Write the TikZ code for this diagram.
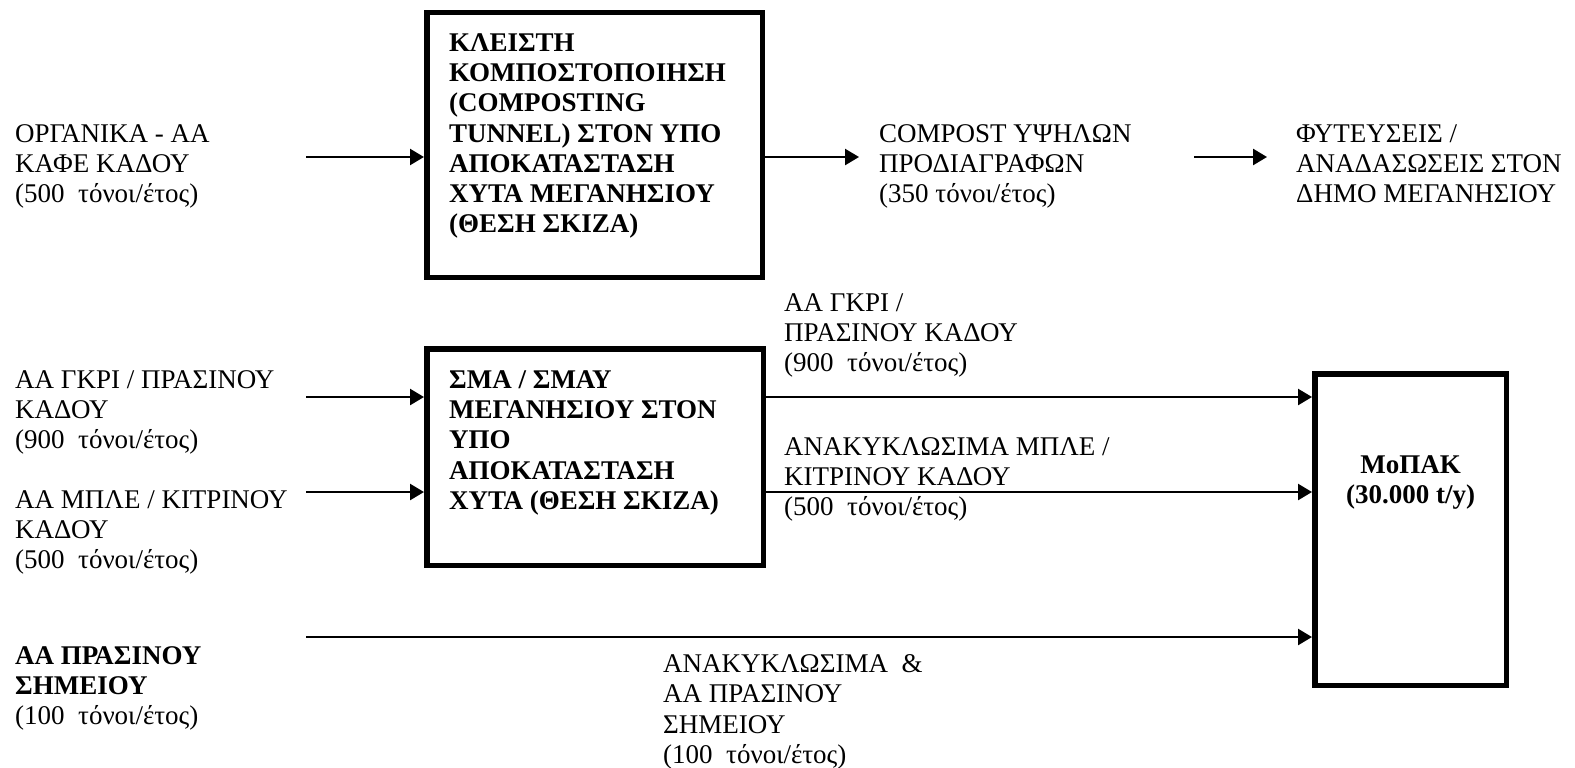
\documentclass[tikz,border=0pt]{standalone}
\usepackage{fontspec}
\setmainfont{Liberation Serif}
\usetikzlibrary{arrows.meta,positioning}
\newcommand\fs{\fontsize{27}{30.2}\selectfont}
\tikzset{
    lbl/.style={anchor=north west,inner sep=0pt,align=left,font=\fs},
    blok/.style={draw,line width=5.5pt,inner sep=0pt},
    arr/.style={line width=2.5pt,-{Triangle[length=14pt,width=16pt]}}
}
\begin{document}
\begin{tikzpicture}[x=1pt,y=-1pt]
    \useasboundingbox (0,0) rectangle (1575,768);
    % boxes
    \node[blok,minimum width=335.5pt,minimum height=264.5pt] (kleisti) at (594.5,145) {};
    \node[blok,minimum width=336.5pt,minimum height=216.5pt] (sma) at (595,457) {};
    \node[blok,minimum width=191.5pt,minimum height=311.5pt] (mopak) at (1410.5,529.5) {};
    \node[lbl,font=\fs\bfseries,below right=23.5pt and 25pt of kleisti.north west] (kleistitxt)
        {ΚΛΕΙΣΤΗ\\ΚΟΜΠΟΣΤΟΠΟΙΗΣΗ\\(COMPOSTING\\TUNNEL) ΣΤΟΝ ΥΠΟ\\ΑΠΟΚΑΤΑΣΤΑΣΗ\\ΧΥΤΑ ΜΕΓΑΝΗΣΙΟΥ\\(ΘΕΣΗ ΣΚΙΖΑ)};
    \node[lbl,font=\fs\bfseries,below right=24.5pt and 25pt of sma.north west] (smatxt)
        {ΣΜΑ / ΣΜΑΥ\\ΜΕΓΑΝΗΣΙΟΥ ΣΤΟΝ\\ΥΠΟ\\ΑΠΟΚΑΤΑΣΤΑΣΗ\\ΧΥΤΑ (ΘΕΣΗ ΣΚΙΖΑ)};
    \node[lbl,anchor=north,align=center,font=\fs\bfseries,below=84.5pt of mopak.north] (mopaktxt)
        {ΜοΠΑΚ\\(30.000 t/y)};
    % texts
    \node[lbl] (organika) at (15,124.5) {ΟΡΓΑΝΙΚΑ - ΑΑ\\ΚΑΦΕ ΚΑΔΟΥ\\(500\ \ τόνοι/έτος)};
    \node[lbl] (compost) at (879,124.5) {COMPOST ΥΨΗΛΩΝ\\ΠΡΟΔΙΑΓΡΑΦΩΝ\\(350 τόνοι/έτος)};
    \node[lbl] (fyteuseis) at (1296,124.5) {ΦΥΤΕΥΣΕΙΣ /\\ΑΝΑΔΑΣΩΣΕΙΣ ΣΤΟΝ\\ΔΗΜΟ ΜΕΓΑΝΗΣΙΟΥ};
    \node[lbl] (gkri) at (15,370.5) {ΑΑ ΓΚΡΙ / ΠΡΑΣΙΝΟΥ\\ΚΑΔΟΥ\\(900\ \ τόνοι/έτος)};
    \node[lbl] (mple) at (15,490.5) {ΑΑ ΜΠΛΕ / ΚΙΤΡΙΝΟΥ\\ΚΑΔΟΥ\\(500\ \ τόνοι/έτος)};
    \node[lbl] (prasino) at (15,646.5) {\bfseries ΑΑ ΠΡΑΣΙΝΟΥ\\\bfseries ΣΗΜΕΙΟΥ\\(100\ \ τόνοι/έτος)};
    \node[lbl] (gkriout) at (784,293.5) {ΑΑ ΓΚΡΙ /\\ΠΡΑΣΙΝΟΥ ΚΑΔΟΥ\\(900\ \ τόνοι/έτος)};
    \node[lbl] (mpleout) at (784,437.5) {ΑΝΑΚΥΚΛΩΣΙΜΑ ΜΠΛΕ /\\ΚΙΤΡΙΝΟΥ ΚΑΔΟΥ\\(500\ \ τόνοι/έτος)};
    \node[lbl] (anakykl) at (663,654.5) {ΑΝΑΚΥΚΛΩΣΙΜΑ\ \ \&\\ΑΑ ΠΡΑΣΙΝΟΥ\\ΣΗΜΕΙΟΥ\\(100\ \ τόνοι/έτος)};
    % arrows
    \coordinate (in1) at (306,157);
    \coordinate (out1) at (859,157);
    \coordinate (f0) at (1194,157);
    \coordinate (f1) at (1267,157);
    \coordinate (in4) at (306,637);
    \draw[arr] (in1) -- (in1 -| kleisti.west);
    \draw[arr] (out1 -| kleisti.east) -- (out1);
    \draw[arr] (f0) -- (f1);
    \foreach \y in {397,492} {
        \coordinate (in\y) at (306,\y);
        \draw[arr] (in\y) -- (in\y -| sma.west);
        \draw[arr] (in\y -| sma.east) -- (in\y -| mopak.west);
    }
    \draw[arr] (in4) -- (in4 -| mopak.west);
\end{tikzpicture}
\end{document}
